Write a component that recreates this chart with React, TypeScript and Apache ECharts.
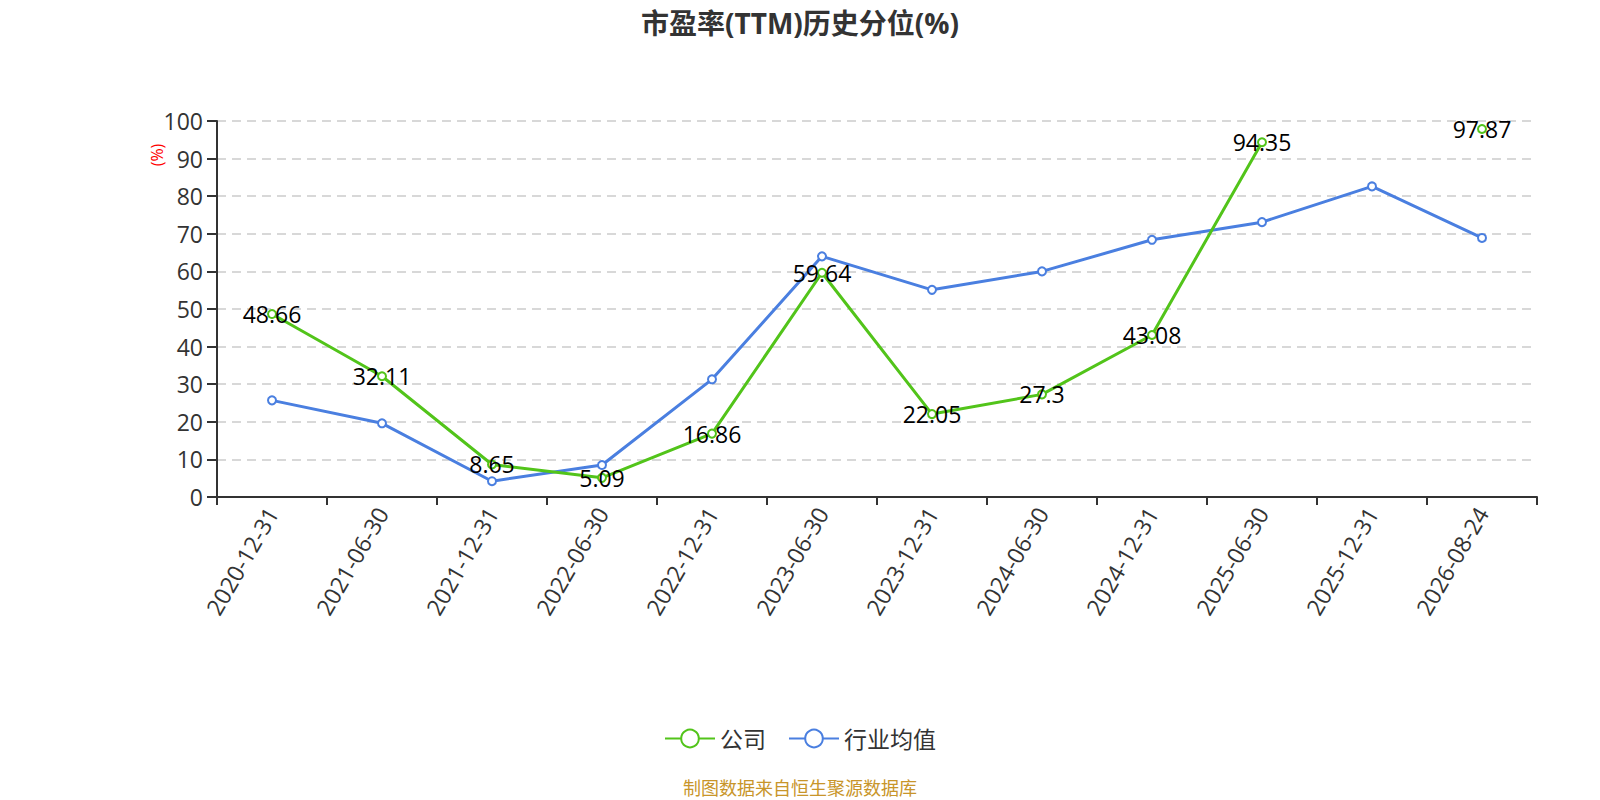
import React, { useEffect, useRef } from "react";
import * as echarts from "echarts";

const categories = [
  "2020-12-31", "2021-06-30", "2021-12-31", "2022-06-30", "2022-12-31", "2023-06-30",
  "2023-12-31", "2024-06-30", "2024-12-31", "2025-06-30", "2025-12-31", "2026-08-24",
];
const companyValues: (number | null)[] = [48.66, 32.11, 8.65, 5.09, 16.86, 59.64, 22.05, 27.3, 43.08, 94.35, null, 97.87];
const industryValues = [25.7, 19.6, 4.2, 8.5, 31.3, 64.0, 55.1, 60.0, 68.4, 73.1, 82.6, 68.9];
const yTicks = { min: 0, max: 100, interval: 10 };

const FONT = "'Open Sans', 'Noto Sans CJK SC', sans-serif";

export default function App() {
  const ref = useRef<HTMLDivElement>(null);
  useEffect(() => {
    if (!ref.current) return;
    const chart = echarts.init(ref.current, null, { renderer: "svg" });
    chart.setOption({
      animation: false,
      textStyle: { fontFamily: FONT },
      graphic: [
        {
          type: "text",
          x: 800,
          y: 23,
          style: {
            text: "市盈率(TTM)历史分位(%)",
            fill: "#333",
            fontSize: 28,
            fontWeight: "bold",
            fontFamily: FONT,
            textAlign: "center",
            textVerticalAlign: "middle",
          },
        },
        {
          type: "text",
          x: 157,
          y: 155,
          rotation: Math.PI / 2,
          style: {
            text: "(%)",
            fill: "#f00",
            fontSize: 16,
            fontFamily: FONT,
            textAlign: "center",
            textVerticalAlign: "middle",
          },
        },
        {
          type: "text",
          x: 800,
          y: 788,
          style: {
            text: "制图数据来自恒生聚源数据库",
            fill: "#c8952a",
            fontSize: 18,
            fontFamily: FONT,
            textAlign: "center",
            textVerticalAlign: "middle",
          },
        },
      ],
      grid: { left: 217, right: 63, top: 121, bottom: 303, containLabel: false },
      legend: {
        top: 727,
        left: "center",
        padding: 0,
        itemWidth: 50,
        itemHeight: 22,
        itemGap: 22,
        textStyle: { fontSize: 23, color: "#333", fontFamily: FONT },
        data: ["公司", "行业均值"],
      },
      xAxis: {
        type: "category",
        data: categories,
        boundaryGap: true,
        axisLine: { lineStyle: { color: "#333", width: 2 } },
        axisTick: { show: true, length: 8, lineStyle: { color: "#333", width: 2 } },
        axisLabel: { rotate: 60, fontSize: 23, color: "#333", margin: 12, fontFamily: FONT },
      },
      yAxis: {
        type: "value",
        min: yTicks.min,
        max: yTicks.max,
        interval: yTicks.interval,
        axisLine: { show: true, lineStyle: { color: "#333", width: 2 } },
        axisTick: { show: true, length: 10, lineStyle: { color: "#333", width: 2 } },
        axisLabel: { fontSize: 23, color: "#333", margin: 14, fontFamily: FONT },
        splitLine: { lineStyle: { color: "#ccc", type: [9, 6], width: 1.5 } },
      },
      series: [
        {
          name: "公司",
          type: "line",
          data: companyValues,
          connectNulls: false,
          symbol: "emptyCircle",
          symbolSize: 8,
          itemStyle: { color: "#52c41a" },
          lineStyle: { width: 3, color: "#52c41a" },
          label: {
            show: true,
            position: "inside",
            fontSize: 23,
            color: "#000",
            fontFamily: FONT,
          },
          z: 3,
        },
        {
          name: "行业均值",
          type: "line",
          data: industryValues,
          symbol: "emptyCircle",
          symbolSize: 8,
          itemStyle: { color: "#4a7fe0" },
          lineStyle: { width: 3, color: "#4a7fe0" },
          z: 2,
        },
      ],
    });
    return () => chart.dispose();
  }, []);
  return <div ref={ref} style={{ width: 1600, height: 800, marginLeft: -8, marginTop: -8 }} />;
}
